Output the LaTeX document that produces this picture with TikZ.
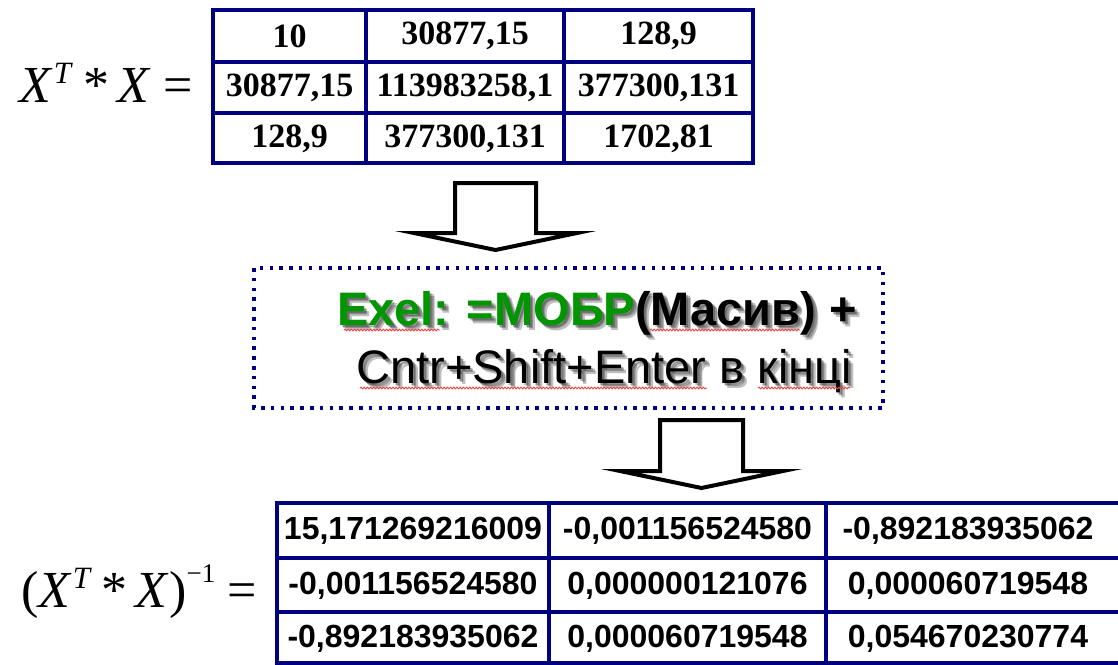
\documentclass[tikz,border=0pt]{standalone}
\usepackage{fontspec}
\setmainfont{Liberation Serif}
\newfontfamily\arialfont{Liberation Sans}
\usetikzlibrary{decorations.pathmorphing}
\definecolor{navy}{RGB}{0,0,128}
\definecolor{exgreen}{RGB}{0,150,0}
\definecolor{spellred}{RGB}{235,70,70}

% text of the two Excel hint lines, reused for the shadow copies
\newcommand{\hintone}[1][]{{\arialfont\bfseries\ifx\relax#1\relax\color{exgreen}\fi Exel: =МОБР}{\arialfont\bfseries(Масив) +}}
\newcommand{\hinttwo}{{\arialfont Cntr+Shift+Enter в кінці}}
% superscripts of the matrix formulas
\newcommand{\supT}{\kern1pt\raisebox{19pt}{\fontsize{31}{33}\selectfont\textit{T}}}
\newcommand{\supInv}{\raisebox{25pt}{\fontsize{27}{30}\selectfont −1}}
\newcommand{\xtx}{\textit{X}\supT\kern10pt*\kern8pt\textit{X}}

\begin{document}
\begin{tikzpicture}[x=1pt,y=-1pt,
  grid/.style={draw=navy, line width=4pt},
  topcell/.style={font=\fontsize{34}{36}\selectfont\bfseries, inner sep=0pt},
  botcell/.style={font=\arialfont\fontsize{32}{34}\selectfont\bfseries, inner sep=0pt},
  blockarrow/.style={draw=black, line width=4pt, fill=white, line join=miter},
  dotbox/.style={draw=navy, line width=3.5pt, dash pattern=on 3.5pt off 6.3pt},
  eq/.style={font=\fontsize{52}{56}\selectfont, inner sep=0pt},
  hint/.style={font=\fontsize{47}{50}\selectfont, inner sep=0pt},
  hintshadow/.style={hint, text=black, opacity=0.25},
  spell/.style={draw=spellred, line width=0.9pt, decorate,
    decoration={snake, amplitude=0.9pt, segment length=3.2pt}}
]
\useasboundingbox (0,0) rectangle (1118,664);

% ---- X^T * X matrix ----
\node[eq, anchor=base east] (eqone) at (193,102) {\xtx\kern13pt=};
\draw[grid] (213,10) rectangle (753,163);
\draw[grid] (366,10) -- (366,163) (564,10) -- (564,163)
            (213,62) -- (753,62) (213,113) -- (753,113);
\node[topcell] (t11) at (289.5,36) {10};
\node[topcell] (t12) at (465,36) {30877,15};
\node[topcell] (t13) at (658.5,36) {128,9};
\node[topcell] (t21) at (289.5,88) {30877,15};
\node[topcell] (t22) at (465,88) {113983258,1};
\node[topcell] (t23) at (658.5,88) {377300,131};
\node[topcell] (t31) at (289.5,138.5) {128,9};
\node[topcell] (t32) at (465,138.5) {377300,131};
\node[topcell] (t33) at (658.5,138.5) {1702,81};

% ---- first block arrow ----
\draw[blockarrow] (455,183) -- (536,183) -- (536,233) -- (577,233)
  -- (495.5,250) -- (414,233) -- (455,233) -- cycle;

% ---- dotted hint box ----
\draw[dotbox] (254,268) rectangle (883,408);
\foreach \d in {2,3.5,5}{
  \node[hintshadow, anchor=base east] at (857+\d,325+\d) {\hintone[s]};
  \node[hintshadow, anchor=base east] at (852+\d,383+\d) {\hinttwo};
}
\node[hint, anchor=base east] (hintA) at (857,325) {\hintone};
\node[hint, anchor=base east] (hintB) at (852,383) {\hinttwo};
\draw[spell] (344,330) -- (440,330);
\draw[spell] (650,330) -- (800,330);
\draw[spell] (360,388) -- (707,388);
\draw[spell] (758,388) -- (850,388);

% ---- second block arrow ----
\draw[blockarrow] (660,420) -- (743,420) -- (743,471) -- (783,471)
  -- (701.5,488) -- (620,471) -- (660,471) -- cycle;

% ---- inverse matrix ----
\node[eq, anchor=base east] (eqtwo) at (257,607) {(\xtx)\supInv\kern12pt=};
\draw[grid] (1130,503) -- (277,503) -- (277,663) -- (1130,663);
\draw[grid] (549,503) -- (549,663) (826,503) -- (826,663)
            (277,558) -- (1130,558) (277,612) -- (1130,612);
\node[botcell] (b11) at (413,531) {15,171269216009};
\node[botcell] (b12) at (687.5,531) {-0,001156524580};
\node[botcell] (b13) at (968,531) {-0,892183935062};
\node[botcell] (b21) at (413,585.5) {-0,001156524580};
\node[botcell] (b22) at (687.5,585.5) {0,000000121076};
\node[botcell] (b23) at (968,585.5) {0,000060719548};
\node[botcell] (b31) at (413,638.5) {-0,892183935062};
\node[botcell] (b32) at (687.5,638.5) {0,000060719548};
\node[botcell] (b33) at (968,638.5) {0,054670230774};
\end{tikzpicture}
\end{document}
